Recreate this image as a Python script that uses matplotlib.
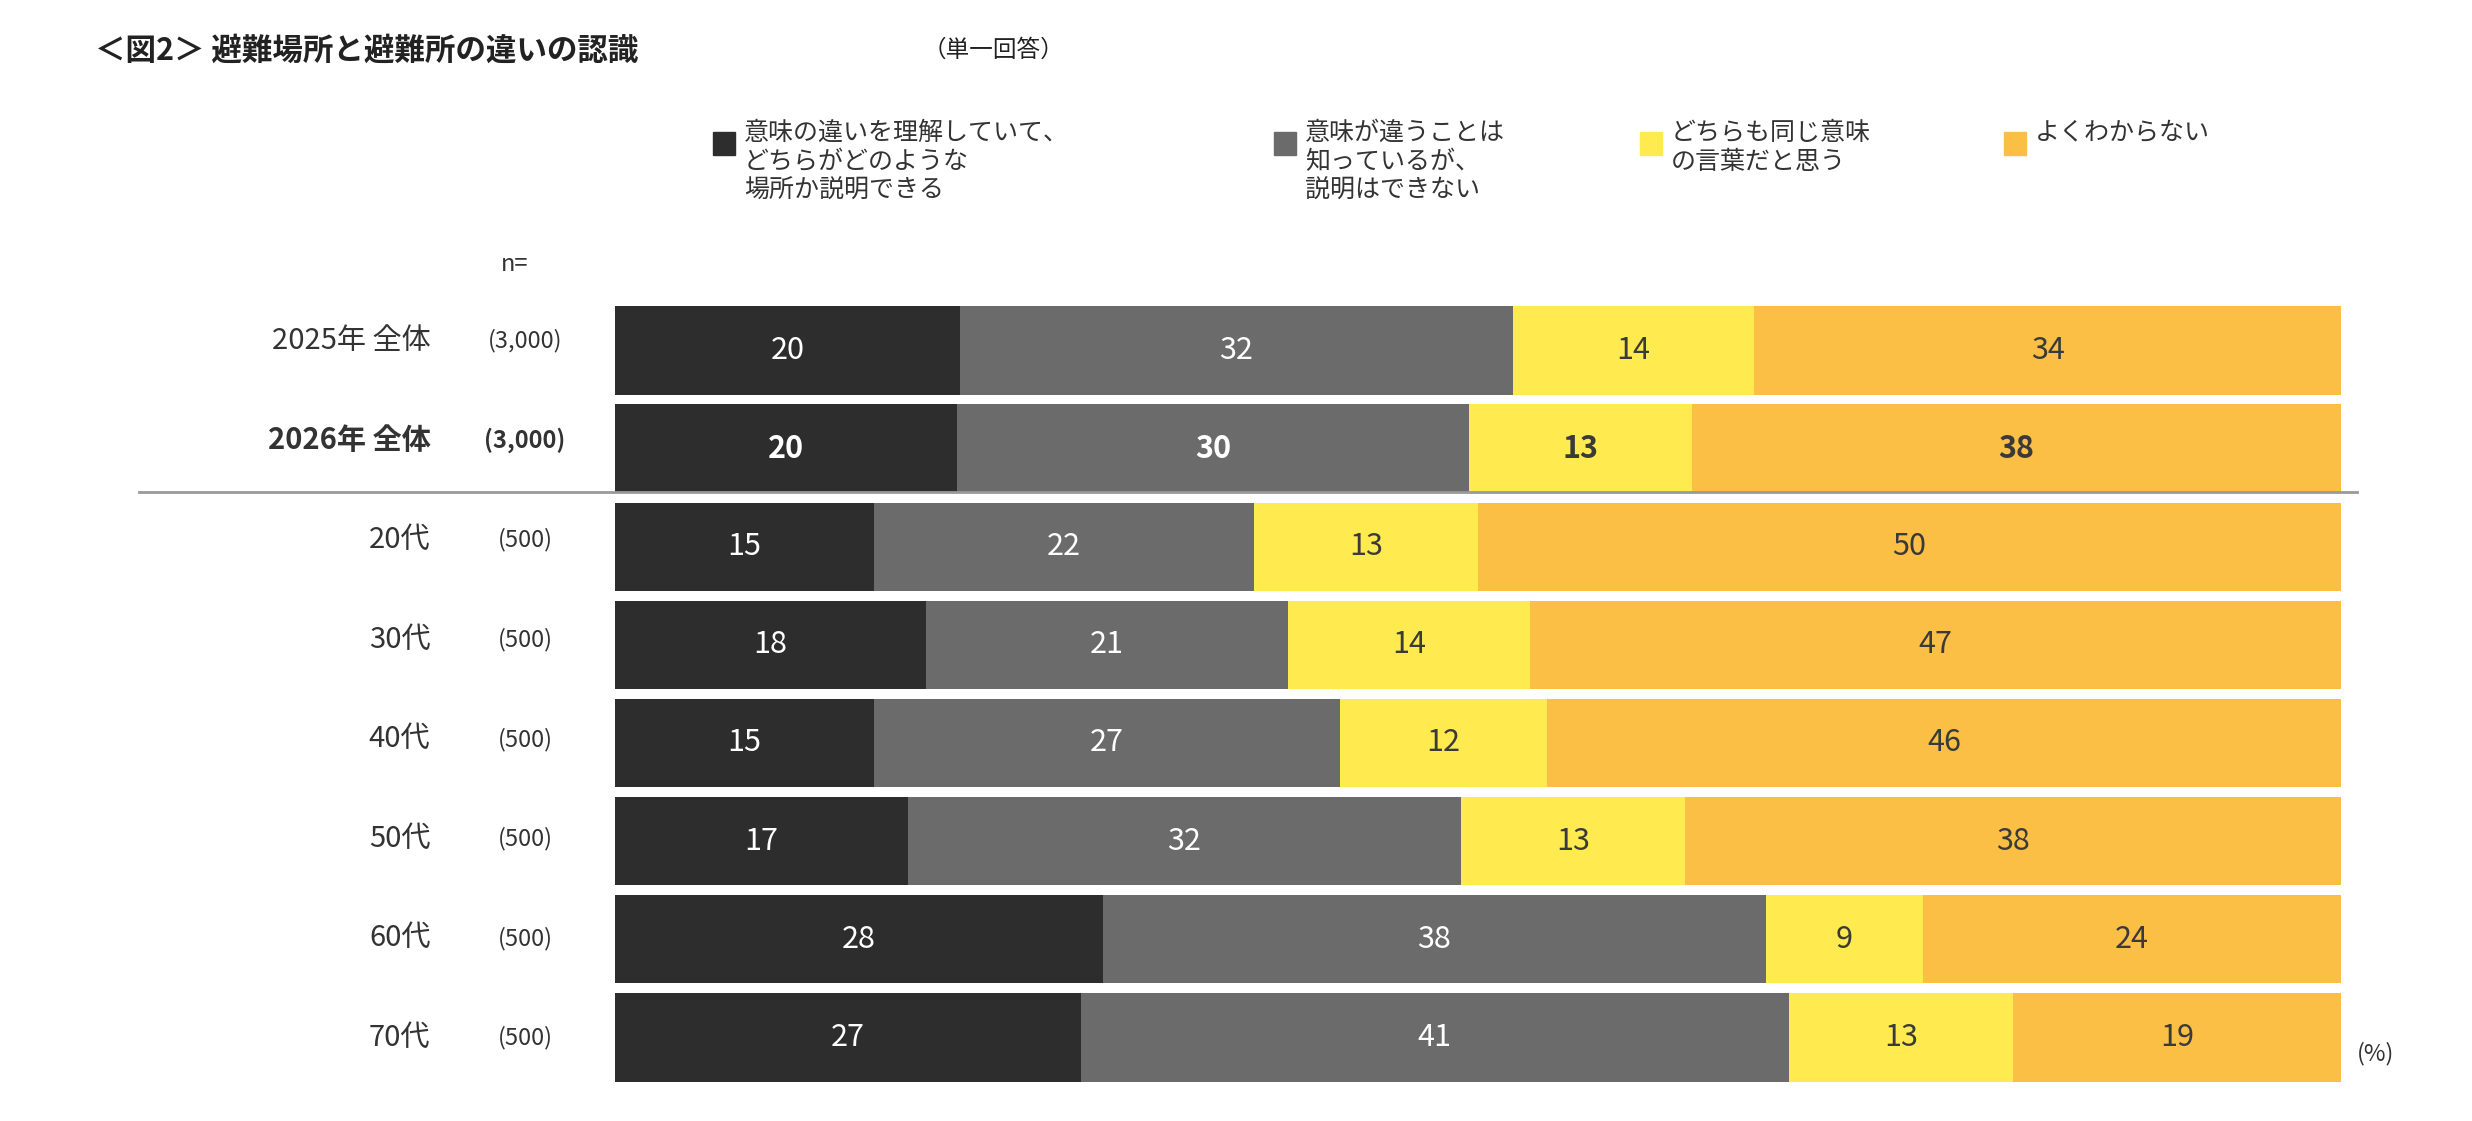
import numpy as np
import matplotlib.pyplot as plt
from matplotlib.patches import Rectangle

plt.rcParams['font.family'] = ['Noto Sans CJK JP', 'DejaVu Sans']

# data
rows = ['2025年 全体', '2026年 全体', '20代', '30代', '40代', '50代', '60代', '70代']
ns = ['(3,000)', '(3,000)', '(500)', '(500)', '(500)', '(500)', '(500)', '(500)']
understand = [20, 20, 15, 18, 15, 17, 28, 27]
know_diff = [32, 30, 22, 21, 27, 32, 38, 41]
same_word = [14, 13, 13, 14, 12, 13, 9, 13]
unknown = [34, 38, 50, 47, 46, 38, 24, 19]
series_names = ['意味の違いを理解していて、\nどちらがどのような\n場所か説明できる',
                '意味が違うことは\n知っているが、\n説明はできない',
                'どちらも同じ意味\nの言葉だと思う',
                'よくわからない']
colors = ['#2d2d2d', '#6b6b6b', '#ffeb4f', '#fbbf45']
txt_colors = ['white', 'white', '#3a3a3a', '#3a3a3a']

W, H = 2472, 1121
s = W / 1568
fig = plt.figure(figsize=(W / 100, H / 100), dpi=100)

def fx(x): return x / 1568
def fy(y): return 1 - y / 711

ax = fig.add_axes([fx(390), fy(686), fx(1485) - fx(390), fy(188) - fy(686)])
data = np.array([understand, know_diff, same_word, unknown], dtype=float)
tot = data.sum(axis=0)
y = np.arange(len(rows))
left = np.zeros(len(rows))
for i in range(4):
    w = data[i] / tot * 100
    ax.barh(y, w, left=left, height=0.9, color=colors[i])
    for j in range(len(rows)):
        ax.text(left[j] + w[j] / 2, y[j], f'{int(data[i][j])}', ha='center', va='center',
                fontsize=22, color=txt_colors[i], fontweight='bold' if j == 1 else 'normal')
    left += w
ax.set_xlim(0, 100)
ax.set_ylim(len(rows) - 0.55, -0.55)
ax.axis('off')

# row labels
for j in range(len(rows)):
    yy = fy(216 + j * 63.2)
    bold = 'bold' if j == 1 else 'normal'
    if j < 2:
        fig.text(fx(273), yy, rows[j], ha='right', va='center', fontsize=21, color='#333333', fontweight=bold)
        fig.text(fx(333), yy, ns[j], ha='center', va='center', fontsize=17, color='#333333', fontweight=bold)
    else:
        fig.text(fx(273), yy, rows[j], ha='right', va='center', fontsize=21, color='#333333')
        fig.text(fx(333), yy, ns[j], ha='center', va='center', fontsize=17, color='#333333')

fig.add_artist(plt.Line2D([fx(88), fx(1495)], [fy(312), fy(312)], color='#999999', lw=2))

fig.text(fx(318), fy(168), 'n=', ha='left', va='center', fontsize=17, color='#333333')
fig.text(fx(1495), fy(668), '(%)', ha='left', va='center', fontsize=17, color='#333333')

# title
fig.text(fx(60), fy(32), '＜図2＞ 避難場所と避難所の違いの認識', ha='left', va='center',
         fontsize=22, fontweight='bold', color='#222222')
fig.text(fx(585), fy(32), '（単一回答）', ha='left', va='center', fontsize=17, color='#222222')

# legend
leg_x = [452, 808, 1040, 1271]
for i in range(4):
    fig.add_artist(Rectangle((fx(leg_x[i]), fy(98)), fx(14), fy(84) - fy(98),
                             transform=fig.transFigure, color=colors[i]))
    fig.text(fx(leg_x[i] + 20), fy(76), series_names[i], ha='left', va='top',
             fontsize=18, color='#333333', linespacing=1.15)

fig.savefig('out.png', dpi=100)
